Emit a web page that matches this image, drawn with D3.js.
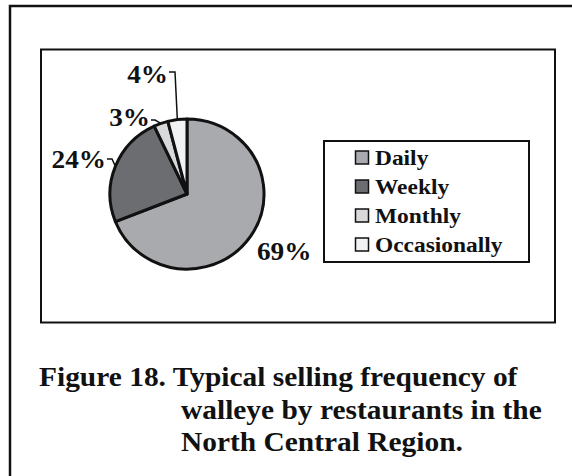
<!DOCTYPE html>
<html>
<head>
<meta charset="utf-8">
<script src="https://cdn.jsdelivr.net/npm/d3@7"></script>
<style>
  body { margin: 0; background: #fff; }
</style>
</head>
<body>
<div id="chart"></div>
<script>
// data
var categories = ["Daily", "Weekly", "Monthly", "Occasionally"];
var shares = [69, 24, 3, 4];
var colors = ["#a9aaae", "#6c6d71", "#d8d9db", "#f1f2f4"];
var captionLines = ["Figure 18. Typical selling frequency of", "walleye by restaurants in the", "North Central Region."];

var width = 572, height = 476;
var font = "'Liberation Serif', 'Times New Roman', serif";
var sx = 1.09; // text in the original is a bit wide

var svg = d3.select("#chart").append("svg")
  .attr("width", width)
  .attr("height", height);

function addText(parent, x, y, size, str, anchor) {
  return parent.append("text")
    .attr("transform", `translate(${x},${y}) scale(${sx},1)`)
    .attr("font-family", font)
    .attr("font-weight", "bold")
    .attr("font-size", size)
    .attr("fill", "#111")
    .attr("text-anchor", anchor || "start")
    .text(str);
}

// outer frame (right/bottom run off the page)
svg.append("path")
  .attr("d", "M10,480 V6 H580")
  .attr("fill", "none").attr("stroke", "#111").attr("stroke-width", 2.5);

// plot frame
svg.append("rect")
  .attr("x", 41).attr("y", 49.5).attr("width", 514).attr("height", 273)
  .attr("fill", "none").attr("stroke", "#111").attr("stroke-width", 2);

// pie
var cx = 187, cy = 194, rx = 77, ry = 75;
var pie = d3.pie().sort(null).value(d => d.v);
var arcs = pie(categories.map((c, i) => ({ c: c, v: shares[i], col: colors[i] })));
var arc = d3.arc().innerRadius(0).outerRadius(rx);

var g = svg.append("g")
  .attr("transform", `translate(${cx},${cy}) scale(1,${ry / rx})`);
g.selectAll("path")
  .data(arcs)
  .enter()
  .append("path")
  .attr("d", arc)
  .attr("fill", d => d.data.col)
  .attr("stroke", "#111")
  .attr("stroke-width", 3)
  .attr("stroke-linejoin", "round")
  .attr("vector-effect", "non-scaling-stroke");

// labels
var labelPos = [
  { x: 257, y: 260, anchor: "start" },
  { x: 106, y: 168, anchor: "end" },
  { x: 150, y: 126, anchor: "end" },
  { x: 168, y: 83, anchor: "end" }
];
arcs.forEach(function(d, i) {
  addText(svg, labelPos[i].x, labelPos[i].y, 25, d.data.v + "%", labelPos[i].anchor);
});

// leader lines for small slices
function edgePt(d) {
  var a = (d.startAngle + d.endAngle) / 2;
  return [cx + Math.sin(a) * rx, cy - Math.cos(a) * ry];
}
var leaders = [
  { i: 1, from: [107, 159], mid: [112, 159] },
  { i: 2, from: [151, 120], mid: [155, 120] },
  { i: 3, from: [169, 72], mid: [175, 72] }
];
leaders.forEach(function(l) {
  var p = edgePt(arcs[l.i]);
  svg.append("polyline")
    .attr("points", [l.from, l.mid, p].map(q => q.join(",")).join(" "))
    .attr("fill", "none").attr("stroke", "#111").attr("stroke-width", 1.5);
});

// legend
var legend = svg.append("g");
legend.append("rect")
  .attr("x", 324).attr("y", 141).attr("width", 205).attr("height", 121)
  .attr("fill", "#fff").attr("stroke", "#111").attr("stroke-width", 2);
var rowY = d3.scalePoint().domain(categories).range([157.5, 244.5]);
categories.forEach(function(c, i) {
  var row = legend.append("g").attr("transform", `translate(0,${rowY(c)})`);
  row.append("rect")
    .attr("x", 355.5).attr("y", -6.5).attr("width", 13).attr("height", 13)
    .attr("fill", colors[i])
    .attr("stroke", "#111").attr("stroke-width", 1.5);
  addText(row, 375, 7.5, 21.5, c);
});

// caption
captionLines.forEach(function(line, i) {
  addText(svg, i === 0 ? 39 : 181, 386 + i * 32.5, 27, line);
});
</script>
</body>
</html>
